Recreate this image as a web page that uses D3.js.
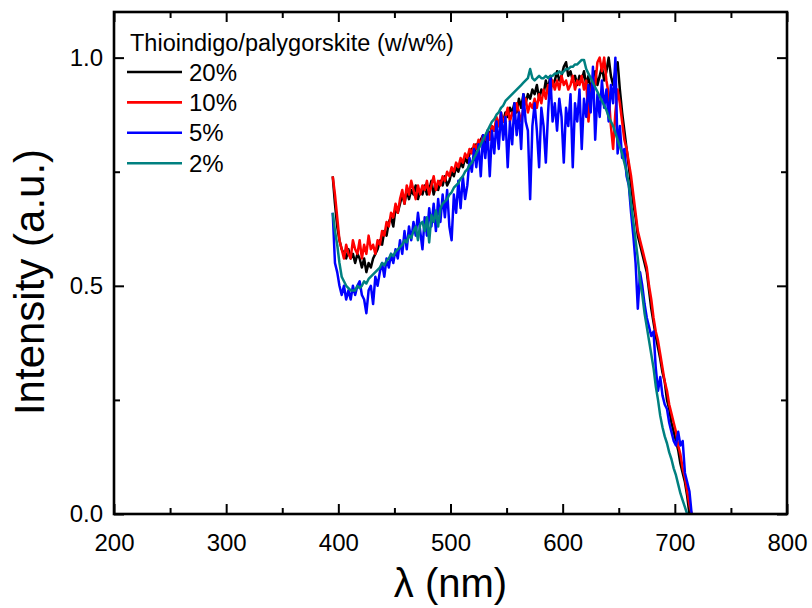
<!DOCTYPE html>
<html>
<head>
<meta charset="utf-8">
<script src="https://cdn.jsdelivr.net/npm/d3@7"></script>
<style>
  html, body { margin: 0; padding: 0; background: #fff; }
  svg text { font-family: "Liberation Sans", Arial, sans-serif; fill: #000; }
</style>
</head>
<body>
<svg id="chart" width="812" height="608"></svg>
<script>
// wavelength grid (nm)
const wavelengths = [
  395,397,399,401,403,405,407,409,411,413,
  415,417,419,421,423,425,427,429,431,433,
  435,437,439,441,443,445,447,449,451,453,
  455,457,459,461,463,465,467,469,471,473,
  475,477,479,481,483,485,487,489,491,493,
  495,497,499,501,503,505,507,509,511,513,
  515,517,519,521,523,525,527,529,531,533,
  535,537,539,541,543,545,547,549,551,553,
  555,557,559,561,563,565,567,569,571,573,
  575,577,579,581,583,585,587,589,591,593,
  595,597,599,601,603,605,607,609,611,613,
  615,617,619,621,623,625,627,629,631,633,
  635,637,639,641,643,645,647,649,651,653,
  655,657,659,661,663,665,667,669,671,673,
  675,677,679,681,683,685,687,689,691,693,
  695,697,699,701,703,705,707,709,711,713,
  715
];

const s20 = [
  0.74,0.68,0.63,0.60,0.58,0.57,0.56,0.58,0.56,0.57,
  0.55,0.57,0.56,0.54,0.56,0.53,0.55,0.54,0.56,0.57,
  0.58,0.60,0.59,0.62,0.61,0.64,0.65,0.63,0.67,0.66,
  0.68,0.70,0.68,0.71,0.69,0.71,0.70,0.72,0.69,0.71,
  0.70,0.72,0.70,0.71,0.73,0.70,0.72,0.71,0.73,0.72,
  0.74,0.72,0.73,0.75,0.74,0.76,0.75,0.77,0.76,0.78,
  0.77,0.79,0.80,0.79,0.81,0.80,0.82,0.83,0.81,0.84,
  0.83,0.85,0.84,0.86,0.85,0.87,0.86,0.88,0.87,0.89,
  0.88,0.90,0.88,0.91,0.89,0.92,0.90,0.92,0.91,0.93,
  0.92,0.94,0.91,0.93,0.92,0.95,0.93,0.96,0.94,0.95,
  0.97,0.95,0.96,0.98,0.99,0.96,0.97,0.95,0.96,0.94,
  0.96,0.95,0.97,0.94,0.96,0.93,0.95,0.97,0.94,0.96,
  0.98,0.95,0.97,1.00,0.96,0.94,0.97,0.99,0.93,0.88,
  0.84,0.80,0.76,0.72,0.68,0.65,0.61,0.59,0.57,0.55,
  0.53,0.49,0.45,0.42,0.39,0.365,0.34,0.31,0.29,0.25,
  0.23,0.20,0.18,0.16,0.14,0.11,0.09,0.07,0.04,0.00,
  null
];

const s10 = [
  0.74,0.70,0.65,0.60,0.58,0.56,0.59,0.57,0.56,0.60,
  0.58,0.57,0.60,0.56,0.59,0.57,0.61,0.58,0.59,0.57,
  0.60,0.59,0.62,0.61,0.64,0.63,0.66,0.65,0.68,0.66,
  0.69,0.71,0.68,0.72,0.70,0.73,0.71,0.69,0.72,0.70,
  0.72,0.71,0.73,0.70,0.72,0.74,0.71,0.73,0.72,0.74,
  0.73,0.75,0.74,0.76,0.75,0.77,0.76,0.78,0.77,0.79,
  0.78,0.80,0.79,0.81,0.80,0.82,0.81,0.83,0.82,0.84,
  0.82,0.85,0.84,0.87,0.85,0.88,0.86,0.87,0.89,0.86,
  0.88,0.87,0.90,0.88,0.86,0.89,0.91,0.88,0.90,0.89,
  0.91,0.89,0.92,0.90,0.93,0.91,0.94,0.92,0.95,0.93,
  0.95,0.93,0.96,0.94,0.95,0.93,0.94,0.96,0.93,0.95,
  0.94,0.96,0.93,0.95,0.86,0.92,0.96,0.94,0.99,1.00,
  0.97,1.00,0.95,0.92,0.85,0.80,0.88,0.93,0.90,0.86,
  0.82,0.80,0.77,0.74,0.70,0.66,0.62,0.60,0.58,0.56,
  0.54,0.50,0.47,0.43,0.40,0.38,0.35,0.32,0.29,0.27,
  0.24,0.22,0.20,0.18,0.15,0.13,0.10,0.08,0.05,0.02,
  0.00
];

const s5 = [
  0.66,0.55,0.53,0.50,0.48,0.50,0.47,0.49,0.47,0.50,
  0.48,0.50,0.51,0.48,0.47,0.44,0.49,0.50,0.46,0.52,
  0.50,0.53,0.55,0.52,0.56,0.54,0.57,0.55,0.58,0.56,
  0.60,0.57,0.62,0.58,0.63,0.60,0.64,0.61,0.66,0.62,
  0.58,0.65,0.61,0.67,0.63,0.68,0.62,0.69,0.64,0.70,
  0.65,0.71,0.63,0.60,0.70,0.66,0.73,0.67,0.74,0.69,
  0.72,0.78,0.75,0.80,0.76,0.81,0.74,0.83,0.78,0.84,
  0.74,0.84,0.79,0.86,0.80,0.88,0.82,0.87,0.76,0.86,
  0.81,0.90,0.83,0.88,0.80,0.92,0.86,0.84,0.69,0.85,
  0.90,0.84,0.76,0.89,0.85,0.77,0.88,0.96,0.86,0.90,
  0.84,0.91,0.87,0.77,0.89,0.85,0.92,0.76,0.90,0.86,
  0.93,0.80,0.91,0.87,0.94,0.88,0.98,0.82,0.92,0.87,
  0.95,0.89,0.93,0.86,0.94,0.90,1.00,0.79,0.85,0.78,
  0.80,0.74,0.72,0.66,0.61,0.55,0.45,0.53,0.50,0.46,
  0.43,0.41,0.39,0.40,0.32,0.27,0.30,0.26,0.24,0.23,
  0.20,0.18,0.16,0.15,0.18,0.15,0.16,0.09,0.07,0.05,
  0.00
];

const s2 = [
  0.66,0.62,0.59,0.55,0.52,0.51,0.50,0.495,0.49,0.49,
  0.49,0.50,0.495,0.50,0.51,0.505,0.515,0.52,0.525,0.53,
  0.535,0.54,0.55,0.545,0.555,0.56,0.57,0.565,0.575,0.58,
  0.585,0.59,0.60,0.595,0.61,0.605,0.62,0.63,0.60,0.635,
  0.64,0.62,0.65,0.595,0.655,0.64,0.665,0.63,0.67,0.68,
  0.685,0.69,0.70,0.705,0.715,0.72,0.725,0.735,0.74,0.75,
  0.755,0.765,0.77,0.78,0.79,0.80,0.81,0.82,0.83,0.84,
  0.85,0.86,0.865,0.875,0.88,0.89,0.895,0.905,0.91,0.915,
  0.92,0.925,0.93,0.935,0.94,0.945,0.95,0.955,0.975,0.955,
  0.95,0.955,0.96,0.955,0.955,0.96,0.955,0.96,0.96,0.965,
  0.965,0.97,0.965,0.97,0.975,0.975,0.98,0.98,0.985,0.985,
  0.99,0.995,0.995,0.975,0.965,0.955,0.945,0.935,0.925,0.915,
  0.905,0.895,0.885,0.87,0.86,0.85,0.835,0.82,0.805,0.79,
  0.77,0.75,0.72,0.68,0.64,0.60,0.56,0.51,0.48,0.44,
  0.41,0.38,0.35,0.32,0.28,0.25,0.215,0.19,0.17,0.155,
  0.135,0.12,0.10,0.085,0.065,0.045,0.03,0.015,0.00,null,
  null
];

const seriesNames = ["20%", "10%", "5%", "2%"];
const seriesColors = ["#000000", "#ff0000", "#0000ff", "#008080"];
const seriesValues = [s20, s10, s5, s2];
const drawOrder = [0, 1, 2, 3];

const xTicks = [200, 300, 400, 500, 600, 700, 800];
const xMinorTicks = [250, 350, 450, 550, 650, 750];
const yTicks = [0.0, 0.5, 1.0];
const yMinorTicks = [0.25, 0.75];
const legendTitle = "Thioindigo/palygorskite (w/w%)";
const xTitle = "\u03bb (nm)";
const yTitle = "Intensity (a.u.)";

const L = 114, R = 787, T = 12, B = 514;
const svg = d3.select("#chart");
const x = d3.scaleLinear().domain([200, 800]).range([L, R]);
const y = d3.scaleLinear().domain([0, 1.1]).range([B, T]);

// series
svg.append("clipPath").attr("id", "clip")
  .append("rect").attr("x", L).attr("y", T).attr("width", R - L).attr("height", B - T);
const plot = svg.append("g").attr("clip-path", "url(#clip)");
const line = d3.line()
  .defined(d => d[1] !== null)
  .x(d => x(d[0])).y(d => y(d[1]));
drawOrder.forEach(k => {
  const pts = wavelengths.map((w, i) => [w, seriesValues[k][i]]);
  plot.append("path")
    .attr("d", line(pts))
    .attr("fill", "none")
    .attr("stroke", seriesColors[k])
    .attr("stroke-width", 2.5)
    .attr("stroke-linejoin", "round");
});

// axes (inward ticks on all sides)
const major = 10, minor = 6;
function styleAxis(g) {
  g.select(".domain").remove();
  g.selectAll(".tick line").attr("stroke", "#000").attr("stroke-width", 2);
  g.selectAll(".tick text").style("font-size", "24px").style("font-family", '"Liberation Sans", Arial, sans-serif');
}
// bottom
svg.append("g").attr("transform", `translate(0,${B})`)
  .call(d3.axisBottom(x).tickValues(xTicks).tickSize(-major).tickPadding(major + 10).tickFormat(d3.format("d")))
  .call(styleAxis);
svg.append("g").attr("transform", `translate(0,${B})`)
  .call(d3.axisBottom(x).tickValues(xMinorTicks).tickSize(-minor).tickFormat(""))
  .call(styleAxis);
// top
svg.append("g").attr("transform", `translate(0,${T})`)
  .call(d3.axisTop(x).tickValues(xTicks).tickSize(-major).tickFormat(""))
  .call(styleAxis);
svg.append("g").attr("transform", `translate(0,${T})`)
  .call(d3.axisTop(x).tickValues(xMinorTicks).tickSize(-minor).tickFormat(""))
  .call(styleAxis);
// left
svg.append("g").attr("transform", `translate(${L},0)`)
  .call(d3.axisLeft(y).tickValues(yTicks).tickSize(-major).tickPadding(major + 1).tickFormat(d3.format(".1f")))
  .call(styleAxis);
svg.append("g").attr("transform", `translate(${L},0)`)
  .call(d3.axisLeft(y).tickValues(yMinorTicks).tickSize(-minor).tickFormat(""))
  .call(styleAxis);
// right
svg.append("g").attr("transform", `translate(${R},0)`)
  .call(d3.axisRight(y).tickValues(yTicks).tickSize(-major).tickFormat(""))
  .call(styleAxis);
svg.append("g").attr("transform", `translate(${R},0)`)
  .call(d3.axisRight(y).tickValues(yMinorTicks).tickSize(-minor).tickFormat(""))
  .call(styleAxis);

// frame
svg.append("rect").attr("x", L).attr("y", T).attr("width", R - L).attr("height", B - T)
  .attr("fill", "none").attr("stroke", "#000").attr("stroke-width", 2.6);

// titles
svg.append("text").attr("x", (L + R) / 2).attr("y", 597)
  .attr("text-anchor", "middle").style("font-size", "40px").text(xTitle);
svg.append("text").attr("transform", "translate(44,282) rotate(-90)")
  .attr("text-anchor", "middle").style("font-size", "42px").text(yTitle);

// legend
svg.append("text").attr("x", 130).attr("y", 51).style("font-size", "23.5px").text(legendTitle);
seriesNames.forEach((name, i) => {
  const ly = 72 + i * 30.4;
  svg.append("line").attr("x1", 127).attr("x2", 182).attr("y1", ly).attr("y2", ly)
    .attr("stroke", seriesColors[i]).attr("stroke-width", 2.6);
  svg.append("text").attr("x", 189).attr("y", ly + 8.5).style("font-size", "24px").text(name);
});
</script>
</body>
</html>
